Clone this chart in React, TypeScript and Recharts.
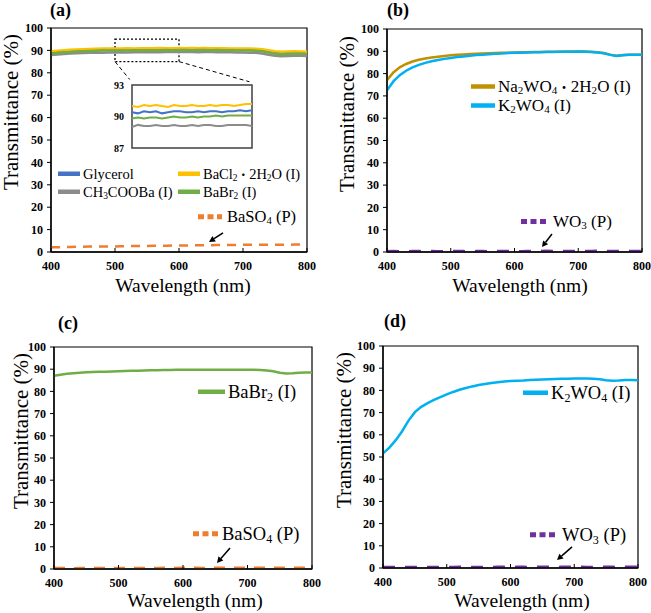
import React from "react";
import { LineChart, Line, XAxis, YAxis, ReferenceArea, ReferenceLine } from "recharts";

// ---- data ----
const wavelengths = [
  400, 410, 420, 430, 440, 450, 460, 470, 480, 490, 500, 510, 520, 530, 540, 550, 560, 570, 580, 590, 600,
  610, 620, 630, 640, 650, 660, 670, 680, 690, 700, 710, 720, 730, 740, 750, 760, 770, 780, 790, 800,
];

// (a)
const glycerolA = [
  89.0, 89.3, 89.6, 89.8, 89.9, 90.0, 90.1, 90.2, 90.3, 90.3, 90.4,
  90.5, 90.4, 90.5, 90.5, 90.6, 90.5, 90.6, 90.6, 90.5, 90.6,
  90.6, 90.5, 90.6, 90.6, 90.5, 90.6, 90.5, 90.5, 90.4, 90.4,
  90.3, 90.2, 90.0, 89.5, 88.9, 88.7, 88.8, 88.9, 88.9, 88.8,
];
const bacl2A = [
  89.6, 89.9, 90.1, 90.3, 90.4, 90.5, 90.6, 90.7, 90.8, 90.8, 90.9,
  90.9, 91.0, 90.9, 91.0, 91.0, 91.0, 91.1, 91.0, 91.0, 91.1,
  91.0, 91.1, 91.0, 91.1, 91.0, 91.0, 91.0, 90.9, 90.9, 90.9,
  90.8, 90.7, 90.5, 90.1, 89.6, 89.4, 89.5, 89.6, 89.5, 89.4,
];
const ch3coobaA = [
  87.9, 88.2, 88.4, 88.6, 88.7, 88.8, 88.9, 89.0, 89.0, 89.1, 89.1,
  89.2, 89.1, 89.2, 89.2, 89.2, 89.3, 89.2, 89.3, 89.3, 89.3,
  89.3, 89.3, 89.2, 89.3, 89.3, 89.2, 89.2, 89.2, 89.1, 89.1,
  89.0, 88.9, 88.6, 88.1, 87.6, 87.4, 87.5, 87.6, 87.6, 87.5,
];
const babr2A = [
  88.4, 88.8, 89.1, 89.3, 89.5, 89.6, 89.7, 89.8, 89.9, 89.9, 90.0,
  90.0, 90.0, 90.1, 90.0, 90.1, 90.1, 90.1, 90.2, 90.1, 90.2,
  90.2, 90.1, 90.2, 90.2, 90.1, 90.2, 90.1, 90.1, 90.0, 90.0,
  89.9, 89.8, 89.6, 89.1, 88.5, 88.3, 88.4, 88.5, 88.5, 88.4,
];
const baso4A = [
  2.1, 2.1, 2.2, 2.2, 2.3, 2.3, 2.4, 2.4, 2.5, 2.5, 2.5,
  2.6, 2.6, 2.7, 2.7, 2.7, 2.8, 2.8, 2.8, 2.9, 2.9,
  2.9, 3.0, 3.0, 3.0, 3.0, 3.1, 3.1, 3.1, 3.1, 3.2,
  3.2, 3.2, 3.2, 3.2, 3.2, 3.2, 3.2, 3.3, 3.3, 3.3,
];

// (a) inset, 500-600 nm
const insetWavelengths = [500, 505, 510, 515, 520, 525, 530, 535, 540, 545, 550, 555, 560, 565, 570, 575, 580, 585, 590, 595, 600];
const insetBacl2 = [91.0, 90.9, 91.1, 91.0, 91.1, 91.0, 90.9, 91.1, 91.0, 91.0, 91.1, 91.0, 91.0, 91.1, 91.0, 91.1, 91.1, 91.0, 91.1, 91.2, 91.2];
const insetGlycerol = [90.4, 90.3, 90.5, 90.4, 90.5, 90.3, 90.4, 90.5, 90.5, 90.4, 90.4, 90.5, 90.4, 90.5, 90.5, 90.4, 90.5, 90.5, 90.6, 90.5, 90.6];
const insetBabr2 = [89.8, 89.9, 89.8, 89.9, 89.9, 89.8, 89.9, 90.0, 89.9, 89.9, 90.0, 89.9, 90.0, 90.0, 90.1, 90.0, 90.1, 90.1, 90.1, 90.1, 90.1];
const insetCh3cooba = [89.0, 89.2, 89.1, 89.1, 89.2, 89.1, 89.1, 89.2, 89.1, 89.1, 89.2, 89.1, 89.2, 89.2, 89.1, 89.1, 89.2, 89.2, 89.2, 89.2, 89.1];

// (b)
const na2wo4B = [
  77.0, 80.5, 82.8, 84.3, 85.4, 86.2, 86.8, 87.2, 87.6, 87.9, 88.2,
  88.4, 88.6, 88.8, 88.9, 89.0, 89.1, 89.2, 89.3, 89.4, 89.5,
  89.6, 89.6, 89.7, 89.7, 89.8, 89.8, 89.8, 89.9, 89.9, 89.9,
  89.9, 89.8, 89.6, 89.2, 88.5, 88.0, 88.3, 88.5, 88.5, 88.4,
];
const k2wo4B = [
  72.5, 76.5, 79.3, 81.3, 82.8, 83.9, 84.8, 85.5, 86.1, 86.6, 87.0,
  87.4, 87.7, 88.0, 88.3, 88.5, 88.7, 88.9, 89.0, 89.2, 89.3,
  89.4, 89.5, 89.6, 89.6, 89.7, 89.7, 89.8, 89.8, 89.8, 89.9,
  89.8, 89.7, 89.5, 89.1, 88.4, 87.9, 88.2, 88.4, 88.5, 88.4,
];
const wo3B = [
  0.2, 0.3, 0.2, 0.2, 0.3, 0.3, 0.2, 0.3, 0.2, 0.2, 0.3,
  0.3, 0.3, 0.2, 0.3, 0.3, 0.2, 0.3, 0.3, 0.3, 0.3,
  0.2, 0.3, 0.3, 0.3, 0.4, 0.3, 0.3, 0.3, 0.3, 0.4,
  0.3, 0.3, 0.4, 0.3, 0.3, 0.3, 0.4, 0.3, 0.3, 0.4,
];

// (c)
const babr2C = [
  87.0, 87.5, 87.9, 88.2, 88.4, 88.6, 88.7, 88.8, 88.9, 89.0, 89.1,
  89.2, 89.3, 89.3, 89.4, 89.5, 89.5, 89.6, 89.6, 89.7, 89.7,
  89.7, 89.7, 89.8, 89.8, 89.7, 89.8, 89.8, 89.8, 89.7, 89.7,
  89.7, 89.6, 89.4, 89.1, 88.4, 88.1, 88.2, 88.4, 88.5, 88.5,
];
const baso4C = [
  0.3, 0.3, 0.3, 0.2, 0.3, 0.3, 0.3, 0.3, 0.4, 0.3, 0.3,
  0.3, 0.4, 0.3, 0.3, 0.4, 0.3, 0.4, 0.4, 0.3, 0.4,
  0.4, 0.4, 0.3, 0.4, 0.4, 0.4, 0.4, 0.5, 0.4, 0.4,
  0.4, 0.5, 0.4, 0.4, 0.5, 0.4, 0.5, 0.5, 0.4, 0.5,
];

// (d)
const k2wo4D = [
  51.6, 54.2, 57.6, 61.6, 66.4, 70.2, 72.6, 74.3, 75.7, 77.0, 78.2,
  79.3, 80.3, 81.1, 81.8, 82.4, 82.9, 83.3, 83.7, 84.0, 84.2,
  84.4, 84.5, 84.7, 84.8, 84.9, 85.0, 85.1, 85.2, 85.3, 85.4,
  85.4, 85.4, 85.2, 85.0, 84.6, 84.4, 84.5, 84.7, 84.7, 84.6,
];
const wo3D = [
  0.3, 0.3, 0.4, 0.3, 0.3, 0.3, 0.4, 0.3, 0.3, 0.4, 0.3,
  0.3, 0.4, 0.4, 0.3, 0.3, 0.4, 0.3, 0.4, 0.4, 0.3,
  0.4, 0.4, 0.3, 0.4, 0.4, 0.4, 0.3, 0.4, 0.4, 0.4,
  0.4, 0.3, 0.4, 0.4, 0.4, 0.4, 0.3, 0.4, 0.4, 0.4,
];

const xTicks = [400, 500, 600, 700, 800];
const yTicks = [0, 10, 20, 30, 40, 50, 60, 70, 80, 90, 100];
const insetTicks = [87, 90, 93];

const dataA = wavelengths.map((wl, i) => ({
  wl, glycerol: glycerolA[i], bacl2: bacl2A[i], ch3cooba: ch3coobaA[i], babr2: babr2A[i], baso4: baso4A[i],
}));
const dataInset = insetWavelengths.map((wl, i) => ({
  wl, glycerol: insetGlycerol[i], bacl2: insetBacl2[i], ch3cooba: insetCh3cooba[i], babr2: insetBabr2[i],
}));
const dataB = wavelengths.map((wl, i) => ({ wl, na2wo4: na2wo4B[i], k2wo4: k2wo4B[i], wo3: wo3B[i] }));
const dataC = wavelengths.map((wl, i) => ({ wl, babr2: babr2C[i], baso4: baso4C[i] }));
const dataD = wavelengths.map((wl, i) => ({ wl, k2wo4: k2wo4D[i], wo3: wo3D[i] }));

const COLORS: Record<string, string> = {
  glycerol: "#4472C4",
  bacl2: "#FFC000",
  ch3cooba: "#8C8C8C",
  babr2: "#70AD47",
  baso4: "#ED7D31",
  na2wo4: "#BF9000",
  k2wo4: "#00B0F0",
  wo3: "#7030A0",
};

const FONT = '"Liberation Serif", serif';
const CJK = '"Noto Sans CJK JP", sans-serif';
const tickStyle = { fontSize: 12, fontWeight: 700, fill: "#000", fontFamily: FONT };

const Sub = ({ children }: { children: React.ReactNode }) => (
  <sub style={{ fontSize: "0.65em", verticalAlign: "-0.25em", lineHeight: 0 }}>{children}</sub>
);
const Dot = () => <span style={{ fontFamily: CJK, fontSize: "0.8em" }}>・</span>;

// arrow drawn between the two ends of a reference segment
const Arrow = (props: any) => {
  const { x1, y1, x2, y2 } = props;
  const ang = Math.atan2(y2 - y1, x2 - x1);
  const len = 6;
  const w = 3.2;
  const bx = x2 - len * Math.cos(ang);
  const by = y2 - len * Math.sin(ang);
  const px = -Math.sin(ang) * w;
  const py = Math.cos(ang) * w;
  return (
    <g>
      <line x1={x1} y1={y1} x2={bx} y2={by} stroke="#000" strokeWidth={1.5} />
      <polygon points={`${x2},${y2} ${bx + px},${by + py} ${bx - px},${by - py}`} fill="#000" />
    </g>
  );
};

type Series = { key: string; width: number; dash?: string };

// plot area edges are given in panel-local pixels; axes take a fixed band
const YAXIS_W = 40;
const XAXIS_H = 30;

function Panel({ box, data, series, arrow, extra }: any) {
  const margin = {
    top: box.plotTop,
    left: box.plotLeft - YAXIS_W,
    right: box.width - box.plotRight,
    bottom: box.height - box.plotBottom - XAXIS_H,
  };
  return (
    <div style={{ position: "absolute", left: box.left, top: box.top }}>
      <LineChart width={box.width} height={box.height} data={data} margin={margin}>
        <ReferenceArea x1={400} x2={800} y1={0} y2={100} fill="none" stroke="#000" strokeWidth={1.2} ifOverflow="visible" />
        <XAxis
          type="number"
          dataKey="wl"
          domain={[400, 800]}
          ticks={xTicks}
          interval={0}
          height={XAXIS_H}
          axisLine={{ stroke: "#000", strokeWidth: 1.3 }}
          tickLine={{ stroke: "#000" }}
          tickSize={-4}
          tickMargin={13}
          tick={tickStyle}
          allowDataOverflow
        />
        <YAxis
          type="number"
          domain={[0, 100]}
          ticks={yTicks}
          interval={0}
          width={YAXIS_W}
          axisLine={{ stroke: "#000", strokeWidth: 1.3 }}
          tickLine={{ stroke: "#000" }}
          tickSize={4}
          tickMargin={4}
          tick={tickStyle}
          allowDataOverflow
        />
        {series.map((s: Series) => (
          <Line
            key={s.key}
            type="linear"
            dataKey={s.key}
            stroke={COLORS[s.key]}
            strokeWidth={s.width}
            strokeDasharray={s.dash}
            dot={false}
            activeDot={false}
            isAnimationActive={false}
          />
        ))}
        {extra}
        <ReferenceLine segment={arrow} shape={Arrow} ifOverflow="visible" />
      </LineChart>
    </div>
  );
}

function LegendItem({ x, y, len, color, dotted, gap, fontSize, children }: any) {
  return (
    <div
      style={{
        position: "absolute",
        left: x,
        top: y,
        transform: "translateY(-50%)",
        display: "flex",
        alignItems: "center",
        whiteSpace: "nowrap",
        fontSize,
        lineHeight: 1,
      }}
    >
      <svg width={len} height={8} style={{ display: "block" }}>
        <line
          x1={0}
          y1={4}
          x2={len}
          y2={4}
          stroke={color}
          strokeWidth={dotted ? 5 : 4.5}
          strokeDasharray={dotted ? "6 3.5" : undefined}
        />
      </svg>
      <span style={{ marginLeft: gap }}>{children}</span>
    </div>
  );
}

const YTitle = ({ cx, cy }: any) => (
  <div
    style={{
      position: "absolute",
      left: cx,
      top: cy,
      transform: "translate(-50%,-50%) rotate(-90deg)",
      fontSize: 21,
      whiteSpace: "nowrap",
      lineHeight: 1,
    }}
  >
    Transmittance (%)
  </div>
);

const XTitle = ({ cx, cy }: any) => (
  <div
    style={{
      position: "absolute",
      left: cx,
      top: cy,
      transform: "translate(-50%,-50%)",
      fontSize: 19.5,
      whiteSpace: "nowrap",
      lineHeight: 1,
    }}
  >
    Wavelength (nm)
  </div>
);

const PanelTag = ({ x, y, children }: any) => (
  <div style={{ position: "absolute", left: x, top: y, fontSize: 18, fontWeight: 700, lineHeight: 1 }}>{children}</div>
);

export default function App() {
  const boxA = { left: 0, top: 0, width: 325, height: 300, plotLeft: 51, plotRight: 307, plotTop: 28, plotBottom: 252 };
  const boxB = { left: 325, top: 0, width: 326, height: 300, plotLeft: 62, plotRight: 317, plotTop: 29, plotBottom: 252 };
  const boxC = { left: 0, top: 305, width: 325, height: 308, plotLeft: 54, plotRight: 312, plotTop: 42, plotBottom: 264 };
  const boxD = { left: 325, top: 305, width: 326, height: 308, plotLeft: 58, plotRight: 313, plotTop: 41, plotBottom: 263 };

  const zoomBox = [
    <ReferenceArea key="zb" x1={500} x2={600} y1={85} y2={95} fill="none" stroke="#000" strokeWidth={1.3} strokeDasharray="2 2" />,
    <ReferenceLine key="zl" segment={[{ x: 500, y: 85 }, { x: 523, y: 77 }]} stroke="#000" strokeDasharray="4 3" ifOverflow="visible" />,
    <ReferenceLine key="zr" segment={[{ x: 600, y: 85 }, { x: 710, y: 76 }]} stroke="#000" strokeDasharray="4 3" ifOverflow="visible" />,
  ];

  return (
    <div
      style={{
        position: "absolute",
        left: 0,
        top: 0,
        width: 651,
        height: 613,
        background: "#fff",
        fontFamily: FONT,
        color: "#000",
        overflow: "hidden",
      }}
    >
      {/* (a) */}
      <Panel
        box={boxA}
        data={dataA}
        series={[
          { key: "baso4", width: 2.5, dash: "9 7" },
          { key: "glycerol", width: 2.5 },
          { key: "bacl2", width: 2.5 },
          { key: "ch3cooba", width: 2.5 },
          { key: "babr2", width: 2.5 },
        ]}
        arrow={[{ x: 668.8, y: 8.5 }, { x: 646.9, y: 4.5 }]}
        extra={zoomBox}
      />
      <div style={{ position: "absolute", left: 100, top: 78 }}>
        <LineChart width={160} height={78} data={dataInset} margin={{ top: 7, right: 8, bottom: 8, left: 12 }}>
          <ReferenceArea x1={500} x2={600} y1={87} y2={93} fill="#fff" stroke="#404040" strokeWidth={1.5} ifOverflow="visible" />
          <XAxis type="number" dataKey="wl" domain={[500, 600]} hide />
          <YAxis
            type="number"
            domain={[87, 93]}
            ticks={insetTicks}
            interval={0}
            width={20}
            axisLine={false}
            tickLine={false}
            tickSize={0}
            tickMargin={8}
            tick={{ fontSize: 10, fontWeight: 700, fill: "#000", fontFamily: FONT }}
          />
          <Line type="linear" dataKey="bacl2" stroke={COLORS.bacl2} strokeWidth={2} dot={false} activeDot={false} isAnimationActive={false} />
          <Line type="linear" dataKey="glycerol" stroke={COLORS.glycerol} strokeWidth={2} dot={false} activeDot={false} isAnimationActive={false} />
          <Line type="linear" dataKey="babr2" stroke={COLORS.babr2} strokeWidth={2} dot={false} activeDot={false} isAnimationActive={false} />
          <Line type="linear" dataKey="ch3cooba" stroke={COLORS.ch3cooba} strokeWidth={2} dot={false} activeDot={false} isAnimationActive={false} />
        </LineChart>
      </div>
      <PanelTag x={50} y={1}>(a)</PanelTag>
      <YTitle cx={11} cy={112} />
      <XTitle cx={183} cy={286} />
      <LegendItem x={58} y={174} len={22} color={COLORS.glycerol} gap={3} fontSize={14.5}>Glycerol</LegendItem>
      <LegendItem x={178} y={174} len={22} color={COLORS.bacl2} gap={3} fontSize={14.5}>
        BaCl<Sub>2</Sub><Dot />2H<Sub>2</Sub>O (I)
      </LegendItem>
      <LegendItem x={58} y={192} len={22} color={COLORS.ch3cooba} gap={3} fontSize={14.5}>
        CH<Sub>3</Sub>COOBa (I)
      </LegendItem>
      <LegendItem x={178} y={192} len={22} color={COLORS.babr2} gap={3} fontSize={14.5}>
        BaBr<Sub>2</Sub> (I)
      </LegendItem>
      <LegendItem x={198} y={217} len={24} color={COLORS.baso4} dotted gap={5} fontSize={16.5}>
        BaSO<Sub>4</Sub> (P)
      </LegendItem>

      {/* (b) */}
      <Panel
        box={boxB}
        data={dataB}
        series={[
          { key: "wo3", width: 3, dash: "12 10" },
          { key: "na2wo4", width: 2.5 },
          { key: "k2wo4", width: 2.5 },
        ]}
        arrow={[{ x: 658.8, y: 8.1 }, { x: 643.1, y: 2.2 }]}
      />
      <PanelTag x={387} y={1}>(b)</PanelTag>
      <YTitle cx={347} cy={114} />
      <XTitle cx={520} cy={286} />
      <LegendItem x={471} y={86} len={24} color={COLORS.na2wo4} gap={3} fontSize={17}>
        Na<Sub>2</Sub>WO<Sub>4</Sub><Dot />2H<Sub>2</Sub>O (I)
      </LegendItem>
      <LegendItem x={471} y={105} len={24} color={COLORS.k2wo4} gap={3} fontSize={17}>
        K<Sub>2</Sub>WO<Sub>4</Sub> (I)
      </LegendItem>
      <LegendItem x={521} y={221} len={26} color={COLORS.wo3} dotted gap={6} fontSize={17}>
        WO<Sub>3</Sub> (P)
      </LegendItem>

      {/* (c) */}
      <Panel
        box={boxC}
        data={dataC}
        series={[
          { key: "baso4", width: 3, dash: "11 9" },
          { key: "babr2", width: 2.5 },
        ]}
        arrow={[{ x: 672.9, y: 9.5 }, { x: 652.7, y: 2.7 }]}
      />
      <PanelTag x={58} y={314}>(c)</PanelTag>
      <YTitle cx={21} cy={431} />
      <XTitle cx={195} cy={601} />
      <LegendItem x={198} y={392} len={27} color={COLORS.babr2} gap={3} fontSize={18.5}>
        BaBr<Sub>2</Sub> (I)
      </LegendItem>
      <LegendItem x={193} y={534} len={27} color={COLORS.baso4} dotted gap={2} fontSize={18.5}>
        BaSO<Sub>4</Sub> (P)
      </LegendItem>

      {/* (d) */}
      <Panel
        box={boxD}
        data={dataD}
        series={[
          { key: "wo3", width: 3, dash: "12 10" },
          { key: "k2wo4", width: 2.5 },
        ]}
        arrow={[{ x: 696.5, y: 9.5 }, { x: 672.9, y: 3.6 }]}
      />
      <PanelTag x={384} y={312}>(d)</PanelTag>
      <YTitle cx={344} cy={430} />
      <XTitle cx={522} cy={601} />
      <LegendItem x={523} y={393} len={25} color={COLORS.k2wo4} gap={3} fontSize={18.5}>
        K<Sub>2</Sub>WO<Sub>4</Sub> (I)
      </LegendItem>
      <LegendItem x={530} y={535} len={27} color={COLORS.wo3} dotted gap={5} fontSize={18.5}>
        WO<Sub>3</Sub> (P)
      </LegendItem>
    </div>
  );
}
